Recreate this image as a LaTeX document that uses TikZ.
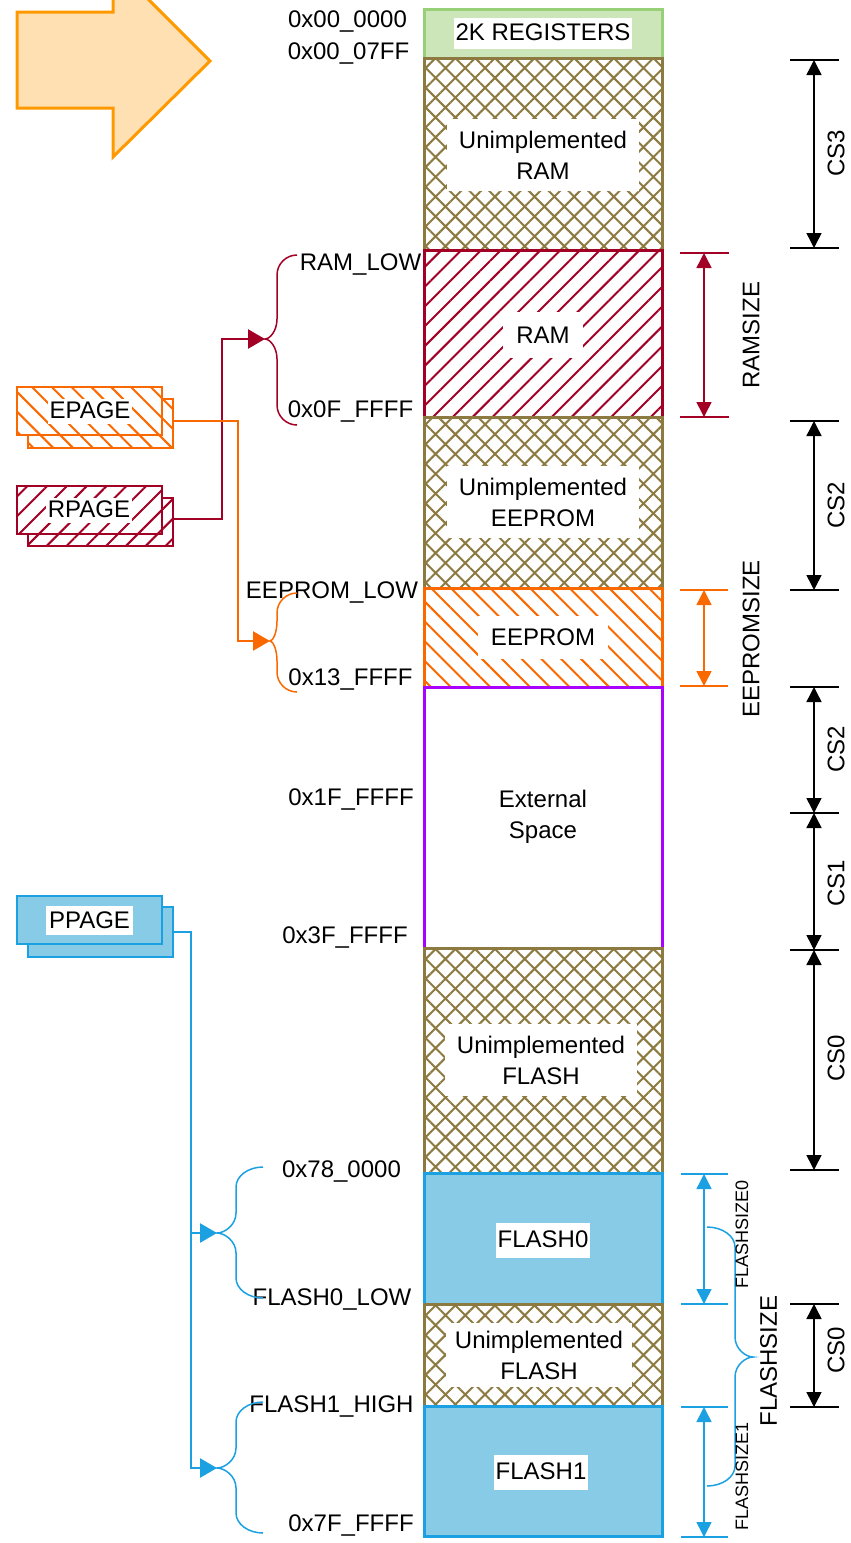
\documentclass[tikz,border=0pt]{standalone}
\usepackage{fontspec}
\setmainfont{Liberation Sans}
\usetikzlibrary{patterns.meta,arrows.meta}
\definecolor{greenfill}{HTML}{CDE6B9}
\definecolor{greendraw}{HTML}{97D077}
\definecolor{olivec}{HTML}{8C7A40}
\definecolor{crimsonc}{HTML}{A20025}
\definecolor{orngc}{HTML}{FA6800}
\definecolor{purpc}{HTML}{AA00FF}
\definecolor{flfill}{HTML}{87CBE6}
\definecolor{fldraw}{HTML}{1BA1E2}
\definecolor{bigfill}{HTML}{FFE0B2}
\definecolor{bigdraw}{HTML}{FF9900}

% #1 colour, #2 x of ends, #3 x of vertical, #4 x of tip, #5 y top, #6 y tip, #7 y bottom
\newcommand{\mybrace}[7]{%
  \draw[#1, line width=1.5pt]
    (#2,#5) .. controls ({#3+0.45*(#2-#3)},#5) and (#3,{#5+9}) .. (#3,{#5+20})
    -- (#3,{#6-20}) .. controls (#3,{#6-8}) and ({#4+0.4*(#3-#4)},#6) .. (#4,#6)
    .. controls ({#4+0.4*(#3-#4)},#6) and (#3,{#6+8}) .. (#3,{#6+20})
    -- (#3,{#7-20}) .. controls (#3,{#7-9}) and ({#3+0.45*(#2-#3)},#7) .. (#2,#7);}

\begin{document}
\begin{tikzpicture}[x=1pt,y=-1pt, font=\fontsize{24}{31}\selectfont,
  blk/.style={draw, line width=3pt, minimum width=238pt, inner sep=0pt, outer sep=0pt},
  unimp/.style={blk, draw=olivec, fill=white, pattern={Hatch[angle=45,distance=14pt,line width=2pt]}, pattern color=olivec},
  lab/.style={fill=white, inner xsep=12pt, inner ysep=12pt, align=center},
  tightlab/.style={fill=white, inner xsep=1.5pt, inner ysep=1pt, text height=22pt, text depth=7pt},
  addr/.style={anchor=base, inner sep=0pt},
  page/.style={draw, line width=2.5pt, minimum width=145pt, minimum height=48pt, inner sep=0pt},
  tick/.style={line width=1.5pt},
  dimarr/.style={line width=1.5pt, {Triangle[width=15pt,length=15pt]}-{Triangle[width=15pt,length=15pt]}},
  route/.style={line width=2.5pt, -{Triangle[width=19pt,length=17pt]}},
  rot/.style={rotate=90, inner sep=0pt},
  small/.style={font=\fontsize{18}{22}\selectfont}]

\useasboundingbox (0,0) rectangle (851,1543);

% big arrow (partly above the page)
\begin{scope}
  \clip (0,0) rectangle (851,1543);
  \draw[bigdraw, fill=bigfill, line width=3pt, line join=miter]
    (17,12) -- (113,12) -- (113,-36) -- (210,61) -- (113,157) -- (113,108) -- (17,108) -- cycle;
\end{scope}

% memory map blocks
\node[blk, draw=greendraw, fill=greenfill, minimum height=49pt] (reg) at (543,33.5) {};
\node[unimp, minimum height=192pt] (uram) at (543,154) {};
\node[blk, draw=crimsonc, pattern={Lines[angle=45,distance=14pt,line width=2pt]}, pattern color=crimsonc, minimum height=167pt] (ram) at (543,333.5) {};
\node[unimp, minimum height=171pt] (ueep) at (543,502.5) {};
\node[blk, draw=orngc, pattern={Lines[angle=-45,distance=14pt,line width=2pt]}, pattern color=orngc, minimum height=99pt] (eep) at (543,637.5) {};
\node[blk, draw=purpc, fill=white, minimum height=261pt] (ext) at (543,817.5) {};
\node[unimp, minimum height=225pt] (ufl) at (543,1060.5) {};
\node[blk, draw=fldraw, fill=flfill, minimum height=131pt] (fl0) at (543,1238.5) {};
\node[unimp, minimum height=102pt] (ufl2) at (543,1355) {};
\node[blk, draw=fldraw, fill=flfill, minimum height=130pt] (fl1) at (543,1471) {};

% block labels
\node[tightlab] (lreg) at (543,33) {2K REGISTERS};
\node[lab] (luram) at (543,155) {Unimplemented\\RAM};
\node[lab, inner xsep=13pt, inner ysep=15pt] (lram) at (543,335) {RAM};
\node[lab] (lueep) at (543,502) {Unimplemented\\EEPROM};
\node[lab, inner xsep=13pt, inner ysep=13pt] (leep) at (543,637) {EEPROM};
\node[align=center, inner sep=2pt] (lext) at (543,817) {External\\Space};
\node[lab] (lufl) at (541,1060) {Unimplemented\\FLASH};
\node[tightlab, inner ysep=3pt] (lfl0) at (543,1240) {FLASH0};
\node[lab, inner xsep=9pt, inner ysep=8pt] (lufl2) at (539,1355) {Unimplemented\\FLASH};
\node[tightlab, inner ysep=3pt] (lfl1) at (541,1472) {FLASH1};

% address labels
\node[addr] (a1) at (347.5,27) {0x00\_0000};
\node[addr] (a2) at (348.5,59) {0x00\_07FF};
\node[addr] (a3) at (360.5,270) {RAM\_LOW};
\node[addr] (a4) at (350.5,417) {0x0F\_FFFF};
\node[addr] (a5) at (332,598) {EEPROM\_LOW};
\node[addr] (a6) at (350.5,685) {0x13\_FFFF};
\node[addr] (a7) at (351,805) {0x1F\_FFFF};
\node[addr] (a8) at (345,943) {0x3F\_FFFF};
\node[addr] (a9) at (341.5,1177) {0x78\_0000};
\node[addr] (a10) at (332,1305) {FLASH0\_LOW};
\node[addr] (a11) at (331.5,1412) {FLASH1\_HIGH};
\node[addr] (a12) at (351,1531) {0x7F\_FFFF};

% page registers
\node[page, draw=orngc, preaction={fill=white}, pattern={Lines[angle=-45,distance=14pt,line width=2pt]}, pattern color=orngc, minimum height=49pt] (epb) at (100.5,423.5) {};
\node[page, draw=orngc, preaction={fill=white}, pattern={Lines[angle=-45,distance=14pt,line width=2pt]}, pattern color=orngc] (epf) at (89.5,411) {};
\node[tightlab, text height=20pt, text depth=5pt, inner ysep=0pt] (lep) at (90,411) {EPAGE};
\node[page, draw=crimsonc, preaction={fill=white}, pattern={Lines[angle=45,distance=14pt,line width=2pt]}, pattern color=crimsonc] (rpb) at (100.5,522) {};
\node[page, draw=crimsonc, preaction={fill=white}, pattern={Lines[angle=45,distance=14pt,line width=2pt]}, pattern color=crimsonc] (rpf) at (89.5,510) {};
\node[tightlab, text height=20pt, text depth=5pt, inner ysep=0pt] (lrp) at (89,510) {RPAGE};
\node[page, draw=fldraw, fill=flfill, minimum height=50pt] (ppb) at (100.5,932) {};
\node[page, draw=fldraw, fill=flfill] (ppf) at (89.5,920) {};
\node[tightlab, inner xsep=3pt, inner ysep=0pt] (lpp) at (89.5,920.5) {PPAGE};

% braces
\mybrace{crimsonc}{297}{277}{265}{255}{339}{425}
\mybrace{orngc}{297}{277}{270}{593}{641}{692}
\mybrace{fldraw}{263}{236}{217}{1167}{1233}{1298}
\mybrace{fldraw}{263}{236}{217}{1402}{1468}{1533}
\mybrace{fldraw}{707}{735}{753}{1227}{1357}{1486}

% brace tips and routing corners
\coordinate (rambt) at (265,339);
\coordinate (rpturn) at (222,339);
\coordinate (eepbt) at (270,641);
\coordinate (epturn) at (238,641);
\coordinate (fl0bt) at (217,1233);
\coordinate (fl1bt) at (217,1468);
\coordinate (ppturn1) at (191,1233);
\coordinate (ppturn2) at (191,1468);

% routes
\draw[route, crimsonc] ([yshift=3pt]rpb.east) -| (rpturn) -- (rambt);
\draw[route, orngc] ([yshift=2.5pt]epb.east) -| (epturn) -- (eepbt);
\draw[route, fldraw] (ppb.east) -| (ppturn2) -- (fl1bt);
\draw[route, fldraw] (ppturn1) -- (fl0bt);

% black CS dimensions
\foreach \yy in {60,248,421,590,687,813,950,1170,1304,1407}
  \draw[tick] (790,\yy) -- (839,\yy);
\coordinate (c1) at (814,60);  \coordinate (c2) at (814,248);
\coordinate (c3) at (814,421); \coordinate (c4) at (814,590);
\coordinate (c5) at (814,687); \coordinate (c6) at (814,813);
\coordinate (c7) at (814,950); \coordinate (c8) at (814,1170);
\coordinate (c9) at (814,1304); \coordinate (c10) at (814,1407);
\draw[dimarr] (c1) -- (c2);
\draw[dimarr] (c3) -- (c4);
\draw[dimarr] (c5) -- (c6);
\draw[dimarr] (c6) -- (c7);
\draw[dimarr] (c7) -- (c8);
\draw[dimarr] (c9) -- (c10);
\node[rot] (cs3) at (836,153) {CS3};
\node[rot] (cs2a) at (836,505) {CS2};
\node[rot] (cs2b) at (836,749) {CS2};
\node[rot] (cs1) at (836,883) {CS1};
\node[rot] (cs0a) at (836,1058) {CS0};
\node[rot] (cs0b) at (836,1350) {CS0};

% coloured size dimensions
\draw[tick, crimsonc] (680,253) -- (729,253);
\draw[tick, crimsonc] (680,417) -- (729,417);
\coordinate (r1) at (704,253); \coordinate (r2) at (704,417);
\draw[dimarr, crimsonc] (r1) -- (r2);
\node[rot] (ramsize) at (751,335) {RAMSIZE};

\draw[tick, orngc] (680,590) -- (728,590);
\draw[tick, orngc] (680,686) -- (728,686);
\coordinate (e1) at (704,590); \coordinate (e2) at (704,686);
\draw[dimarr, orngc] (e1) -- (e2);
\node[rot] (eepsize) at (751,639) {EEPROMSIZE};

\draw[tick, fldraw] (681,1174) -- (728,1174);
\draw[tick, fldraw] (681,1304) -- (728,1304);
\draw[tick, fldraw] (681,1407) -- (728,1407);
\draw[tick, fldraw] (681,1537) -- (728,1537);
\coordinate (f1) at (704,1174); \coordinate (f2) at (704,1304);
\coordinate (f3) at (704,1407); \coordinate (f4) at (704,1537);
\draw[dimarr, fldraw] (f1) -- (f2);
\draw[dimarr, fldraw] (f3) -- (f4);
\node[rot, small] (fs0) at (742,1234) {FLASHSIZE0};
\node[rot, small] (fs1) at (742,1476) {FLASHSIZE1};
\node[rot] (fs) at (768.5,1361) {FLASHSIZE};

\end{tikzpicture}
\end{document}
